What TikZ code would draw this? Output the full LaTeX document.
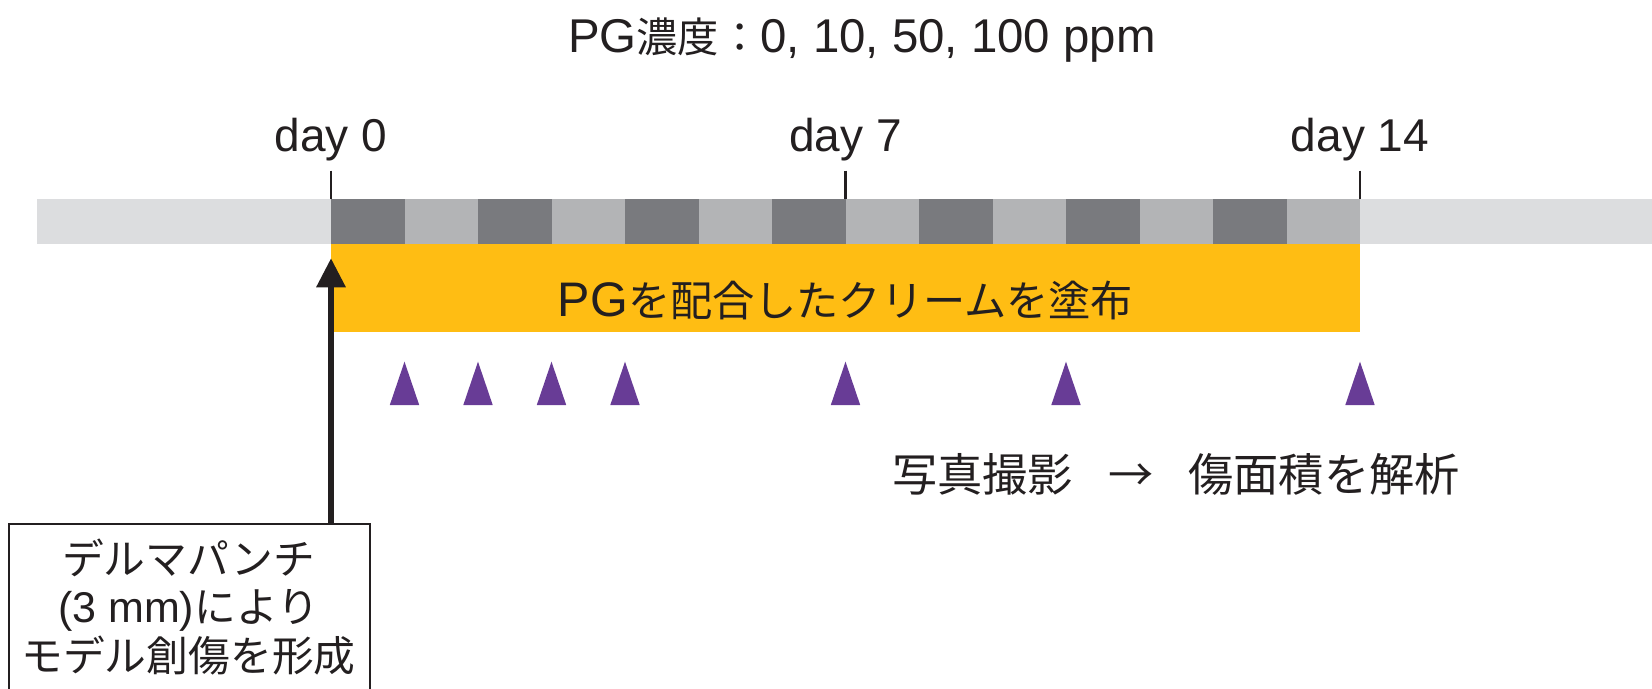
\documentclass[tikz,border=0pt]{standalone}
\usepackage{fontspec}
\setmainfont{Liberation Sans}
\newfontfamily\cjk{Noto Sans CJK JP}[Scale=0.87]
\usetikzlibrary{arrows.meta}
\definecolor{dgray}{RGB}{121,122,126}
\definecolor{mgray}{RGB}{179,180,182}
\definecolor{lgray}{RGB}{220,221,223}
\definecolor{cream}{RGB}{255,189,19}
\definecolor{tri}{RGB}{104,60,150}
\definecolor{ink}{RGB}{35,31,32}
\newcommand{\J}[1]{{\cjk #1}}
\newcommand{\fs}[1]{\fontsize{#1bp}{#1bp}\selectfont}
\begin{document}
\begin{tikzpicture}[x=1bp,y=-1bp,
  lbl/.style={anchor=base, inner sep=0pt, text=ink, font=\fs{46}},
  tick/.style={draw=ink, line width=2.5bp},
  marker/.style={fill=tri}]
\useasboundingbox (0,0) rectangle (1652,689);
% timeline bar
\fill[lgray] (37,199) rectangle (1652,244);
\foreach \i in {0,...,13}{
  \pgfmathsetmacro\xa{331+73.5*\i}
  \pgfmathsetmacro\xb{331+73.5*(\i+1)}
  \ifodd\i \fill[mgray] (\xa,199) rectangle (\xb,244);
  \else \fill[dgray] (\xa,199) rectangle (\xb,244); \fi
}
% ticks
\foreach \d in {0,7,14}{
  \draw[tick] ({331+73.5*\d},170.7) -- ({331+73.5*\d},199);
}
% cream bar
\node[fill=cream, minimum width=1029bp, minimum height=87.7bp, inner sep=0pt, anchor=north west] (creambar) at (331,244) {};
\node[lbl, font=\fs{48.5}] (creamtext) at (845.5,316) {PG\J{を配合したクリームを塗布}};
% labels
\node[lbl, font=\fs{47.4}] (title) at (862,53) {PG\J{濃度：}0, 10, 50, 100 ppm};
\node[lbl] (d0) at (331,152) {day 0};
\node[lbl] (d7) at (845.5,152) {day 7};
\node[lbl] (d14) at (1360,152) {day 14};
% photo markers
\foreach \d in {1,2,3,4,7,10,14}{
  \fill[marker] ({331+73.5*\d},361.7) -- ({331+73.5*\d-14.7},405) -- ({331+73.5*\d+14.7},405) -- cycle;
}
\node[lbl, font=\fs{52}] (photo) at (1176,491) {\J{写真撮影}\hspace{35bp}\J{→}\hspace{35bp}\J{傷面積を解析}};
% box
\node[draw=ink, line width=2bp, minimum width=361bp, minimum height=190bp, inner sep=0pt, anchor=north west] (box) at (8,522.7) {};
\node[lbl, font=\fs{48}] (b1) at (188.5,574) {\J{デルマパンチ}};
\node[lbl, font=\fs{48}] (b2) at (188.5,622) {{\fs{43}(3 mm)}\J{により}};
\node[lbl, font=\fs{48}] (b3) at (188.5,671) {\J{モデル創傷を形成}};
\coordinate (tip) at (331,258.3);
\draw[draw=ink, line width=5.5bp, -{Triangle[width=28.3bp,length=29bp]}] (box.north -| tip) -- (tip);
\end{tikzpicture}
\end{document}
